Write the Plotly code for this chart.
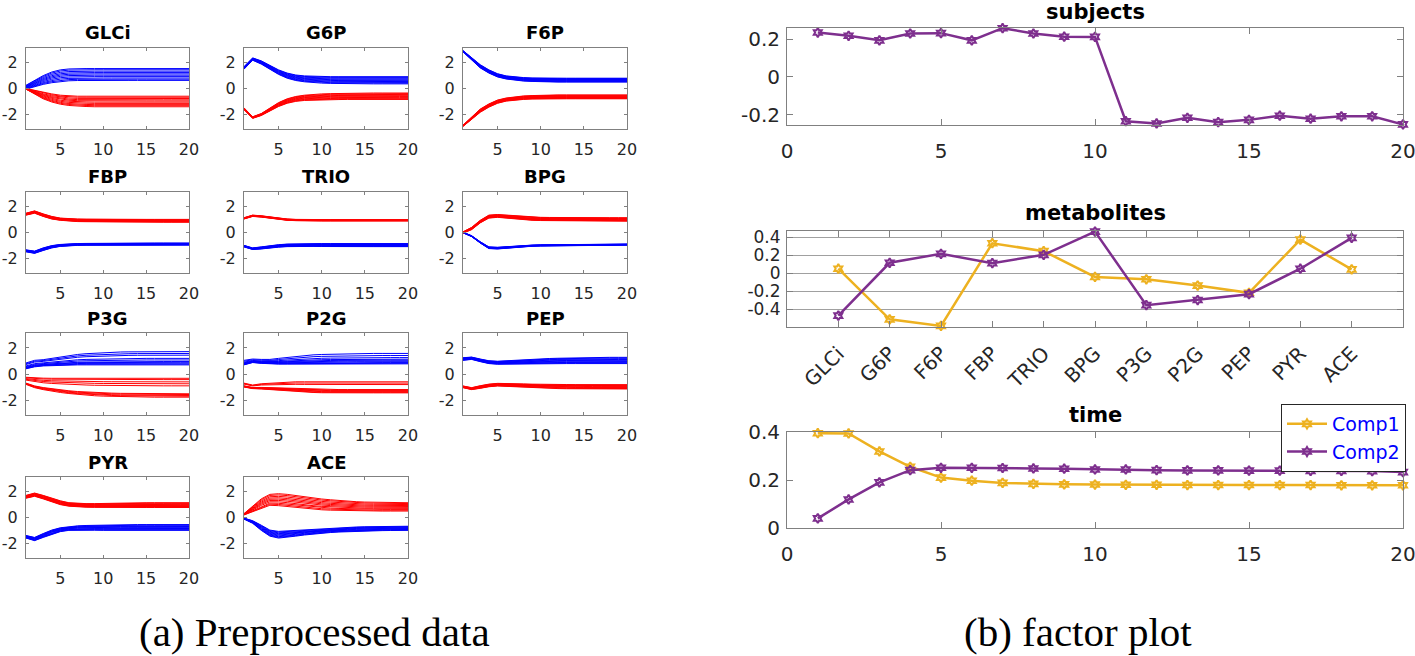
import plotly.graph_objects as go

W, H = 1415, 656

# ---------------- data: left panel (preprocessed data) ----------------
t = list(range(1, 21))
metabolites = ["GLCi", "G6P", "F6P", "FBP", "TRIO", "BPG", "P3G", "P2G", "PEP", "PYR", "ACE"]

# envelope curves (upper / lower) of each group of subject lines
GLCi_blue_top = [0.25, 0.65, 1.0, 1.28, 1.45, 1.52, 1.55, 1.55, 1.55, 1.55, 1.55, 1.55, 1.55, 1.55, 1.55, 1.55, 1.55, 1.55, 1.55, 1.55]
GLCi_blue_bot = [-0.05, 0.15, 0.32, 0.45, 0.55, 0.6, 0.62, 0.63, 0.63, 0.63, 0.63, 0.63, 0.63, 0.63, 0.63, 0.63, 0.63, 0.63, 0.63, 0.63]
GLCi_red_top = [0.0, -0.15, -0.3, -0.42, -0.52, -0.57, -0.6, -0.6, -0.6, -0.6, -0.6, -0.6, -0.6, -0.6, -0.6, -0.6, -0.6, -0.6, -0.6, -0.6]
GLCi_red_bot = [-0.05, -0.45, -0.8, -1.05, -1.22, -1.32, -1.38, -1.4, -1.42, -1.42, -1.42, -1.42, -1.42, -1.42, -1.42, -1.42, -1.42, -1.42, -1.42, -1.42]

G6P_blue_top = [1.7, 2.38, 2.15, 1.8, 1.45, 1.2, 1.05, 0.98, 0.95, 0.93, 0.92, 0.92, 0.92, 0.92, 0.92, 0.92, 0.92, 0.92, 0.92, 0.92]
G6P_blue_bot = [1.5, 2.2, 1.9, 1.5, 1.1, 0.8, 0.62, 0.52, 0.46, 0.42, 0.4, 0.38, 0.37, 0.36, 0.36, 0.36, 0.36, 0.36, 0.36, 0.36]
G6P_red_top = [-1.5, -2.2, -1.95, -1.55, -1.1, -0.8, -0.62, -0.52, -0.46, -0.42, -0.4, -0.38, -0.37, -0.36, -0.35, -0.35, -0.35, -0.35, -0.35, -0.35]
G6P_red_bot = [-1.65, -2.32, -2.1, -1.75, -1.4, -1.15, -1.0, -0.93, -0.9, -0.88, -0.87, -0.86, -0.85, -0.85, -0.85, -0.85, -0.85, -0.85, -0.85, -0.85]

F6P_blue_top = [2.95, 2.4, 1.85, 1.45, 1.15, 0.98, 0.9, 0.85, 0.82, 0.8, 0.8, 0.8, 0.8, 0.8, 0.8, 0.8, 0.8, 0.8, 0.8, 0.8]
F6P_blue_bot = [2.85, 2.2, 1.6, 1.2, 0.9, 0.74, 0.64, 0.58, 0.55, 0.52, 0.5, 0.5, 0.5, 0.5, 0.5, 0.5, 0.5, 0.5, 0.5, 0.5]
F6P_red_top = [-2.85, -2.2, -1.6, -1.2, -0.9, -0.74, -0.64, -0.58, -0.55, -0.52, -0.5, -0.5, -0.5, -0.5, -0.5, -0.5, -0.5, -0.5, -0.5, -0.5]
F6P_red_bot = [-2.95, -2.4, -1.85, -1.45, -1.15, -0.98, -0.9, -0.85, -0.82, -0.8, -0.8, -0.8, -0.8, -0.8, -0.8, -0.8, -0.8, -0.8, -0.8, -0.8]

FBP_blue_top = [-1.35, -1.45, -1.2, -1.02, -0.93, -0.88, -0.86, -0.85, -0.84, -0.83, -0.83, -0.82, -0.82, -0.82, -0.82, -0.82, -0.82, -0.82, -0.82, -0.82]
FBP_blue_bot = [-1.5, -1.62, -1.4, -1.2, -1.08, -1.02, -1.0, -0.99, -0.99, -0.98, -0.98, -0.98, -0.98, -0.98, -0.98, -0.98, -0.98, -0.98, -0.98, -0.98]
FBP_red_top = [1.5, 1.68, 1.45, 1.25, 1.12, 1.07, 1.05, 1.04, 1.03, 1.03, 1.02, 1.02, 1.02, 1.02, 1.02, 1.02, 1.02, 1.02, 1.02, 1.02]
FBP_red_bot = [1.35, 1.5, 1.25, 1.05, 0.95, 0.88, 0.85, 0.84, 0.83, 0.82, 0.82, 0.81, 0.81, 0.8, 0.8, 0.8, 0.8, 0.8, 0.8, 0.8]

TRIO_blue_top = [-1.0, -1.2, -1.12, -1.02, -0.95, -0.9, -0.88, -0.87, -0.87, -0.86, -0.86, -0.86, -0.86, -0.86, -0.86, -0.86, -0.86, -0.86, -0.86, -0.86]
TRIO_blue_bot = [-1.12, -1.32, -1.28, -1.2, -1.14, -1.1, -1.08, -1.07, -1.08, -1.09, -1.1, -1.1, -1.1, -1.1, -1.1, -1.1, -1.1, -1.1, -1.1, -1.1]
TRIO_red_top = [1.15, 1.35, 1.3, 1.2, 1.1, 1.05, 1.02, 1.0, 1.0, 1.0, 1.0, 1.0, 1.0, 1.0, 1.0, 1.0, 1.0, 1.0, 1.0, 1.0]
TRIO_red_bot = [1.05, 1.25, 1.2, 1.1, 1.0, 0.95, 0.92, 0.9, 0.9, 0.9, 0.9, 0.9, 0.9, 0.9, 0.9, 0.9, 0.9, 0.9, 0.9, 0.9]

BPG_blue_top = [0.02, -0.25, -0.72, -1.12, -1.15, -1.1, -1.05, -1.0, -0.98, -0.96, -0.95, -0.94, -0.93, -0.92, -0.92, -0.91, -0.91, -0.9, -0.9, -0.9]
BPG_blue_bot = [-0.02, -0.32, -0.82, -1.25, -1.28, -1.22, -1.16, -1.1, -1.07, -1.05, -1.04, -1.03, -1.02, -1.01, -1.0, -1.0, -0.99, -0.99, -0.98, -0.98]
BPG_red_top = [0.05, 0.4, 0.95, 1.35, 1.4, 1.35, 1.28, 1.23, 1.2, 1.18, 1.17, 1.16, 1.15, 1.15, 1.15, 1.15, 1.15, 1.15, 1.15, 1.15]
BPG_red_bot = [-0.05, 0.22, 0.75, 1.12, 1.18, 1.12, 1.03, 0.98, 0.95, 0.93, 0.92, 0.91, 0.9, 0.9, 0.89, 0.89, 0.88, 0.88, 0.88, 0.88]

P3G_blue_top = [0.85, 1.05, 1.1, 1.2, 1.32, 1.43, 1.5, 1.56, 1.6, 1.64, 1.67, 1.69, 1.7, 1.71, 1.72, 1.72, 1.72, 1.72, 1.72, 1.72]
P3G_blue_bot = [0.4, 0.55, 0.62, 0.65, 0.68, 0.7, 0.7, 0.7, 0.7, 0.7, 0.7, 0.7, 0.7, 0.7, 0.7, 0.7, 0.7, 0.7, 0.7, 0.7]
P3G_red_top = [-0.25, -0.3, -0.32, -0.33, -0.33, -0.33, -0.33, -0.33, -0.33, -0.33, -0.33, -0.33, -0.33, -0.33, -0.33, -0.33, -0.33, -0.33, -0.33, -0.33]
P3G_red_bot = [-0.8, -1.05, -1.2, -1.32, -1.42, -1.5, -1.57, -1.62, -1.67, -1.7, -1.72, -1.74, -1.75, -1.76, -1.77, -1.78, -1.78, -1.78, -1.78, -1.78]

P2G_blue_top = [1.05, 1.15, 1.12, 1.12, 1.2, 1.28, 1.36, 1.42, 1.47, 1.5, 1.52, 1.54, 1.56, 1.57, 1.58, 1.58, 1.58, 1.58, 1.58, 1.58]
P2G_blue_bot = [0.7, 0.88, 0.82, 0.78, 0.76, 0.76, 0.76, 0.76, 0.76, 0.77, 0.77, 0.77, 0.78, 0.78, 0.78, 0.78, 0.78, 0.78, 0.78, 0.78]
P2G_red_top = [-0.7, -0.85, -0.75, -0.7, -0.65, -0.62, -0.6, -0.6, -0.6, -0.6, -0.6, -0.6, -0.6, -0.6, -0.6, -0.6, -0.6, -0.6, -0.6, -0.6]
P2G_red_bot = [-1.0, -1.12, -1.15, -1.2, -1.26, -1.32, -1.37, -1.4, -1.42, -1.44, -1.45, -1.45, -1.45, -1.45, -1.45, -1.45, -1.45, -1.45, -1.45, -1.45]

PEP_blue_top = [1.25, 1.3, 1.15, 1.02, 0.98, 1.02, 1.08, 1.12, 1.15, 1.17, 1.19, 1.21, 1.23, 1.24, 1.25, 1.26, 1.27, 1.28, 1.28, 1.28]
PEP_blue_bot = [1.05, 1.12, 0.95, 0.8, 0.75, 0.76, 0.78, 0.8, 0.8, 0.8, 0.8, 0.8, 0.8, 0.8, 0.8, 0.8, 0.8, 0.8, 0.8, 0.8]
PEP_red_top = [-0.92, -1.05, -0.9, -0.78, -0.72, -0.72, -0.74, -0.76, -0.78, -0.8, -0.8, -0.81, -0.81, -0.82, -0.82, -0.82, -0.82, -0.82, -0.82, -0.82]
PEP_red_bot = [-1.05, -1.2, -1.1, -0.98, -0.92, -0.95, -1.0, -1.05, -1.08, -1.1, -1.11, -1.12, -1.13, -1.14, -1.15, -1.15, -1.15, -1.15, -1.15, -1.15]

PYR_blue_top = [-1.4, -1.55, -1.25, -0.98, -0.8, -0.7, -0.65, -0.62, -0.6, -0.58, -0.57, -0.56, -0.56, -0.55, -0.55, -0.55, -0.55, -0.55, -0.55, -0.55]
PYR_blue_bot = [-1.6, -1.8, -1.55, -1.3, -1.1, -1.0, -0.98, -0.98, -0.99, -1.0, -1.0, -1.0, -1.0, -1.0, -1.0, -1.0, -1.0, -1.0, -1.0, -1.0]
PYR_red_top = [1.72, 1.9, 1.72, 1.5, 1.3, 1.15, 1.1, 1.08, 1.08, 1.1, 1.12, 1.13, 1.14, 1.15, 1.15, 1.15, 1.15, 1.15, 1.15, 1.15]
PYR_red_bot = [1.5, 1.65, 1.45, 1.2, 1.0, 0.88, 0.83, 0.8, 0.79, 0.78, 0.78, 0.78, 0.78, 0.78, 0.78, 0.78, 0.78, 0.78, 0.78, 0.78]

ACE_blue_top = [-0.05, -0.25, -0.6, -0.98, -1.08, -1.04, -1.0, -0.95, -0.9, -0.86, -0.82, -0.79, -0.76, -0.74, -0.72, -0.71, -0.7, -0.69, -0.68, -0.68]
ACE_blue_bot = [-0.12, -0.45, -1.0, -1.45, -1.6, -1.55, -1.45, -1.36, -1.28, -1.22, -1.17, -1.13, -1.1, -1.07, -1.05, -1.03, -1.02, -1.01, -1.0, -1.0]
ACE_red_top = [0.3, 0.9, 1.45, 1.8, 1.85, 1.8, 1.7, 1.6, 1.5, 1.44, 1.38, 1.32, 1.27, 1.23, 1.2, 1.18, 1.16, 1.15, 1.15, 1.15]
ACE_red_bot = [0.2, 0.45, 0.7, 0.95, 0.92, 0.85, 0.77, 0.7, 0.65, 0.6, 0.57, 0.55, 0.53, 0.52, 0.5, 0.5, 0.5, 0.5, 0.5, 0.5]

# relative position of each subject line inside its envelope
frac_default = [0.0, 0.1, 0.2, 0.32, 0.44, 0.55, 0.66, 0.78, 0.9, 1.0]
frac_P3G_blue = [0.0, 0.06, 0.13, 0.2, 0.25, 0.37, 0.49, 0.73, 0.86, 1.0]
frac_P3G_red = [0.0, 0.05, 0.09, 0.14, 0.18, 0.6, 0.71, 0.81, 0.93, 1.0]
frac_P2G_blue = [0.0, 0.06, 0.12, 0.2, 0.28, 0.36, 0.45, 0.6, 0.8, 1.0]
frac_P2G_red = [0.0, 0.05, 0.1, 0.15, 0.2, 0.25, 0.3, 0.75, 0.88, 1.0]

panels = {
    "GLCi": (GLCi_blue_top, GLCi_blue_bot, GLCi_red_top, GLCi_red_bot, frac_default, frac_default),
    "G6P": (G6P_blue_top, G6P_blue_bot, G6P_red_top, G6P_red_bot, frac_default, frac_default),
    "F6P": (F6P_blue_top, F6P_blue_bot, F6P_red_top, F6P_red_bot, frac_default, frac_default),
    "FBP": (FBP_blue_top, FBP_blue_bot, FBP_red_top, FBP_red_bot, frac_default, frac_default),
    "TRIO": (TRIO_blue_top, TRIO_blue_bot, TRIO_red_top, TRIO_red_bot, frac_default, frac_default),
    "BPG": (BPG_blue_top, BPG_blue_bot, BPG_red_top, BPG_red_bot, frac_default, frac_default),
    "P3G": (P3G_blue_top, P3G_blue_bot, P3G_red_top, P3G_red_bot, frac_P3G_blue, frac_P3G_red),
    "P2G": (P2G_blue_top, P2G_blue_bot, P2G_red_top, P2G_red_bot, frac_P2G_blue, frac_P2G_red),
    "PEP": (PEP_blue_top, PEP_blue_bot, PEP_red_top, PEP_red_bot, frac_default, frac_default),
    "PYR": (PYR_blue_top, PYR_blue_bot, PYR_red_top, PYR_red_bot, frac_default, frac_default),
    "ACE": (ACE_blue_top, ACE_blue_bot, ACE_red_top, ACE_red_bot, frac_default, frac_default),
}

# ---------------- data: right panel (factor plot) ----------------
subjects_x = list(range(1, 21))
subjects_comp2 = [0.234, 0.217, 0.193, 0.229, 0.231, 0.193, 0.257, 0.229, 0.212, 0.211,
                  -0.233, -0.245, -0.215, -0.238, -0.226, -0.204, -0.22, -0.207, -0.207, -0.25]

met_x = list(range(1, 12))
met_comp1 = [0.048, -0.515, -0.588, 0.331, 0.243, -0.044, -0.07, -0.14, -0.22, 0.371, 0.04]
met_comp2 = [-0.474, 0.114, 0.213, 0.11, 0.202, 0.46, -0.357, -0.30, -0.235, 0.048, 0.39]

time_x = list(range(1, 21))
time_comp1 = [0.395, 0.394, 0.319, 0.255, 0.21, 0.197, 0.188, 0.184, 0.182, 0.181,
              0.18, 0.18, 0.179, 0.179, 0.179, 0.179, 0.179, 0.178, 0.178, 0.178]
time_comp2 = [0.04, 0.119, 0.19, 0.241, 0.251, 0.251, 0.25, 0.248, 0.247, 0.244,
              0.244, 0.241, 0.24, 0.24, 0.239, 0.239, 0.238, 0.238, 0.237, 0.233]

COMP1 = "#EDB120"
COMP2 = "#7E2F8E"
RED = "#ff0000"
BLUE = "#0000ff"
AXC = "#808080"
TXT = "#262626"

fig = go.Figure()
layout = dict(width=W, height=H, margin=dict(l=0, r=0, t=0, b=0, pad=0), autosize=False,
              template="none", paper_bgcolor="white", plot_bgcolor="white", showlegend=True,
              hovermode="closest")


def xd(a, b):
    return [a / W, b / W]


def yd(top, bot):
    return [1 - bot / H, 1 - top / H]


cols = [(26, 189), (244, 408), (463, 627)]
rows = [(48, 129), (192, 273), (333, 415), (477, 558)]

annotations = []
ax_i = 0
for k, name in enumerate(metabolites):
    ax_i += 1
    r, c = divmod(k, 3)
    sfx = "" if ax_i == 1 else str(ax_i)
    btop, bbot, rtop, rbot, fb, fr = panels[name]
    for f in fb:
        y = [lo + f * (hi - lo) for hi, lo in zip(btop, bbot)]
        fig.add_trace(go.Scatter(x=t, y=y, mode="lines", line=dict(color=BLUE, width=1),
                                 xaxis="x" + sfx, yaxis="y" + sfx, showlegend=False, hoverinfo="skip"))
    for f in fr:
        y = [lo + f * (hi - lo) for hi, lo in zip(rtop, rbot)]
        fig.add_trace(go.Scatter(x=t, y=y, mode="lines", line=dict(color=RED, width=1),
                                 xaxis="x" + sfx, yaxis="y" + sfx, showlegend=False, hoverinfo="skip"))
    common = dict(showline=True, linecolor=AXC, linewidth=1, mirror="ticks", ticks="inside",
                  ticklen=3, tickcolor=AXC, showgrid=False, zeroline=False, automargin=False,
                  tickfont=dict(family="DejaVu Sans", size=16, color=TXT))
    layout["xaxis" + sfx] = dict(domain=xd(*cols[c]), anchor="y" + sfx, range=[1, 20],
                                 tickvals=[5, 10, 15, 20], ticktext=["5", "10", "15", "20"],
                                 ticklabelstandoff=6, **common)
    layout["yaxis" + sfx] = dict(domain=yd(*rows[r]), anchor="x" + sfx, range=[-3.15, 3.15],
                                 tickvals=[-2, 0, 2], ticktext=["-2", "0", "2"],
                                 ticklabelstandoff=4, **common)
    annotations.append(dict(text="<b>%s</b>" % name, x=(cols[c][0] + cols[c][1]) / 2 / W,
                            y=1 - (rows[r][0] - 15) / H, xref="paper", yref="paper", showarrow=False,
                            xanchor="center", yanchor="middle",
                            font=dict(family="DejaVu Sans", size=18, color="black")))

# right panel axes
RX = (787, 1403)
right_common = dict(showline=True, linecolor=AXC, linewidth=1, mirror="ticks", ticks="inside",
                    ticklen=6, tickcolor=AXC, zeroline=False, automargin=False,
                    ticklabeloverflow="allow")
tf20 = dict(family="DejaVu Sans", size=20, color=TXT)
tf17 = dict(family="DejaVu Sans", size=17, color=TXT)
mk = dict(symbol="hexagram-open", size=7, line=dict(width=2))

# subjects (axis 12)
fig.add_trace(go.Scatter(x=subjects_x, y=subjects_comp2, mode="lines+markers", name="Comp2",
                         line=dict(color=COMP2, width=2.5), marker=dict(color=COMP2, **mk),
                         xaxis="x12", yaxis="y12", showlegend=False, cliponaxis=False))
layout["xaxis12"] = dict(domain=xd(*RX), anchor="y12", range=[0, 20], tickvals=[0, 5, 10, 15, 20],
                         ticktext=["0", "5", "10", "15", "20"], showgrid=False,
                         ticklabelstandoff=8, tickfont=tf20, **right_common)
layout["yaxis12"] = dict(domain=yd(28, 125), anchor="x12", range=[-0.253, 0.258],
                         tickvals=[-0.2, 0, 0.2], ticktext=["-0.2", "0", "0.2"], showgrid=False,
                         ticklabelstandoff=2, tickfont=tf20, **right_common)

# metabolites (axis 13)
fig.add_trace(go.Scatter(x=met_x, y=met_comp1, mode="lines+markers", name="Comp1",
                         line=dict(color=COMP1, width=2.5), marker=dict(color=COMP1, **mk),
                         xaxis="x13", yaxis="y13", showlegend=False, cliponaxis=False))
fig.add_trace(go.Scatter(x=met_x, y=met_comp2, mode="lines+markers", name="Comp2",
                         line=dict(color=COMP2, width=2.5), marker=dict(color=COMP2, **mk),
                         xaxis="x13", yaxis="y13", showlegend=False, cliponaxis=False))
layout["xaxis13"] = dict(domain=xd(*RX), anchor="y13", range=[0, 12], tickvals=met_x,
                         ticktext=metabolites, tickangle=-45, showgrid=False,
                         ticklabelstandoff=6, tickfont=tf20, **right_common)
layout["yaxis13"] = dict(domain=yd(231, 327), anchor="x13", range=[-0.6, 0.467],
                         tickvals=[-0.4, -0.2, 0, 0.2, 0.4],
                         ticktext=["-0.4", "-0.2", "0", "0.2", "0.4"],
                         showgrid=True, gridcolor="#a0a0a0", gridwidth=1,
                         ticklabelstandoff=2, tickfont=tf17, **right_common)

# time (axis 14)
fig.add_trace(go.Scatter(x=time_x, y=time_comp1, mode="lines+markers", name="Comp1",
                         line=dict(color=COMP1, width=2.5), marker=dict(color=COMP1, **mk),
                         xaxis="x14", yaxis="y14", cliponaxis=False))
fig.add_trace(go.Scatter(x=time_x, y=time_comp2, mode="lines+markers", name="Comp2",
                         line=dict(color=COMP2, width=2.5), marker=dict(color=COMP2, **mk),
                         xaxis="x14", yaxis="y14", cliponaxis=False))
layout["xaxis14"] = dict(domain=xd(*RX), anchor="y14", range=[0, 20], tickvals=[0, 5, 10, 15, 20],
                         ticktext=["0", "5", "10", "15", "20"], showgrid=False,
                         ticklabelstandoff=8, tickfont=tf20, **right_common)
layout["yaxis14"] = dict(domain=yd(432, 528), anchor="x14", range=[0, 0.4],
                         tickvals=[0, 0.2, 0.4], ticktext=["0", "0.2", "0.4"], showgrid=False,
                         ticklabelstandoff=2, tickfont=tf20, **right_common)

for txt, yc in [("subjects", 12), ("metabolites", 213), ("time", 415)]:
    annotations.append(dict(text="<b>%s</b>" % txt, x=1095 / W, y=1 - yc / H, xref="paper",
                            yref="paper", showarrow=False, xanchor="center", yanchor="middle",
                            font=dict(family="DejaVu Sans", size=21, color="black")))

# captions
for txt, xc in [("(a) Preprocessed data", 314), ("(b) factor plot", 1078)]:
    annotations.append(dict(text=txt, x=xc / W, y=1 - 632 / H, xref="paper", yref="paper",
                            showarrow=False, xanchor="center", yanchor="middle",
                            font=dict(family="Liberation Serif", size=41, color="black")))

layout["annotations"] = annotations
layout["legend"] = dict(x=1406 / W, y=1 - 404 / H, xanchor="right", yanchor="top",
                        bgcolor="white", bordercolor=TXT, borderwidth=1,
                        font=dict(family="DejaVu Sans", size=19, color="#0000ff"),
                        itemwidth=40, tracegroupgap=0)
fig.update_layout(**layout)
fig.write_html("out.html", config={"displayModeBar": False},
               post_script="document.body.style.margin='0';document.body.style.padding='0';"
                           "document.body.style.overflow='hidden';")
